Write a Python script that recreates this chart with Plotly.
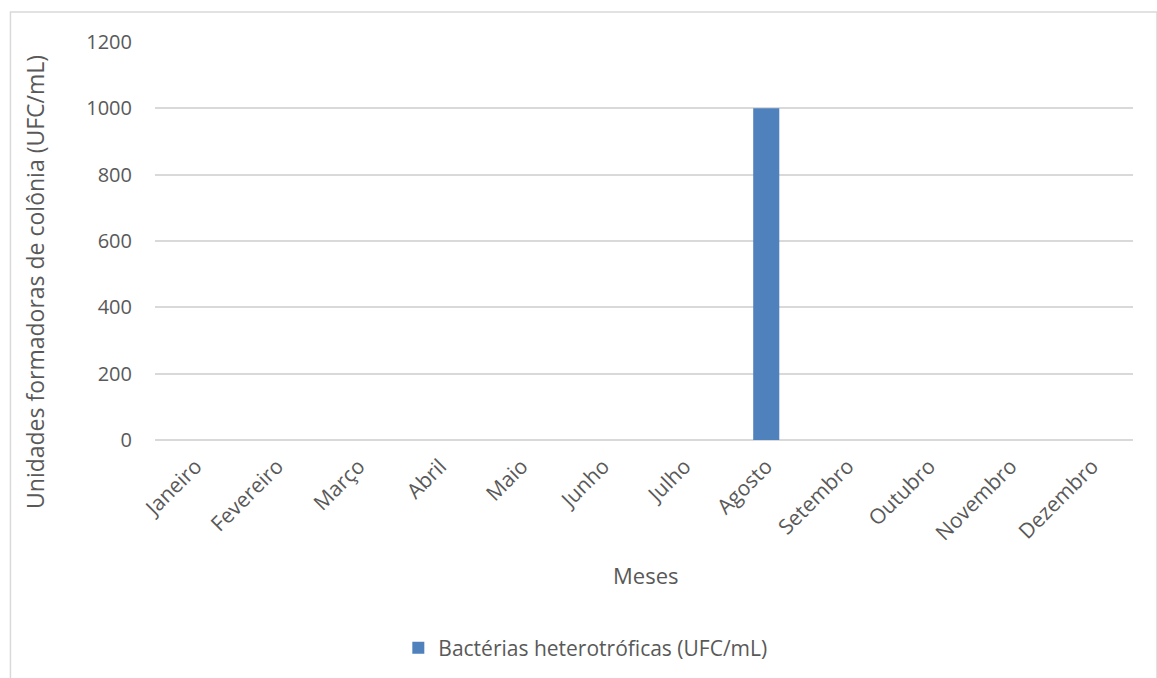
import plotly.graph_objects as go

meses = ["Janeiro", "Fevereiro", "Março", "Abril", "Maio", "Junho",
         "Julho", "Agosto", "Setembro", "Outubro", "Novembro", "Dezembro"]
ufc = [0, 0, 0, 0, 0, 0, 0, 1000, 0, 0, 0, 0]
y_ticks = [0, 200, 400, 600, 800, 1000, 1200]

FONT = "Open Sans, Liberation Sans, sans-serif"
TXT = "#595959"

fig = go.Figure()
fig.add_trace(go.Bar(
    x=meses, y=ufc, name="Bactérias heterotróficas (UFC/mL)",
    marker=dict(color="#4f81bd", line=dict(width=0)),
    width=0.32,
))

fig.update_layout(
    width=1157, height=678,
    margin=dict(l=155, r=24, t=42, b=238, autoexpand=False),
    paper_bgcolor="white", plot_bgcolor="white",
    font=dict(family=FONT, color=TXT, size=20),
    showlegend=True,
    legend=dict(orientation="h", x=0.44, xanchor="center", y=-0.523, yanchor="middle",
                font=dict(size=21, color=TXT, family=FONT), itemwidth=30),
    xaxis=dict(tickangle=-45, showgrid=False, showline=False, ticks="",
               ticklabelstandoff=9, automargin=False,
               tickfont=dict(size=21, color=TXT)),
    yaxis=dict(range=[0, 1200], tickvals=y_ticks, showgrid=True,
               gridcolor="#d9d9d9", gridwidth=1.5, zeroline=True,
               zerolinecolor="#d9d9d9", zerolinewidth=1.5, showline=False,
               ticks="", ticklabelstandoff=22, automargin=False,
               tickfont=dict(size=20, color=TXT)),
    annotations=[
        dict(text="Unidades formadoras de colônia (UFC/mL)", textangle=-90,
             xref="paper", yref="paper", x=-0.1227, y=0.397,
             xanchor="center", yanchor="middle", showarrow=False,
             font=dict(size=23, color=TXT)),
        dict(text="Meses", xref="paper", yref="paper", x=0.502, y=-0.339,
             xanchor="center", yanchor="middle", showarrow=False,
             font=dict(size=22, color=TXT)),
    ],
    shapes=[dict(type="rect", xref="paper", yref="paper",
                 x0=-0.1478, x1=1.0245, y0=-1.0, y1=1.0754,
                 line=dict(color="#d9d9d9", width=1.5), layer="below")],
)

fig.write_html("out.html")
